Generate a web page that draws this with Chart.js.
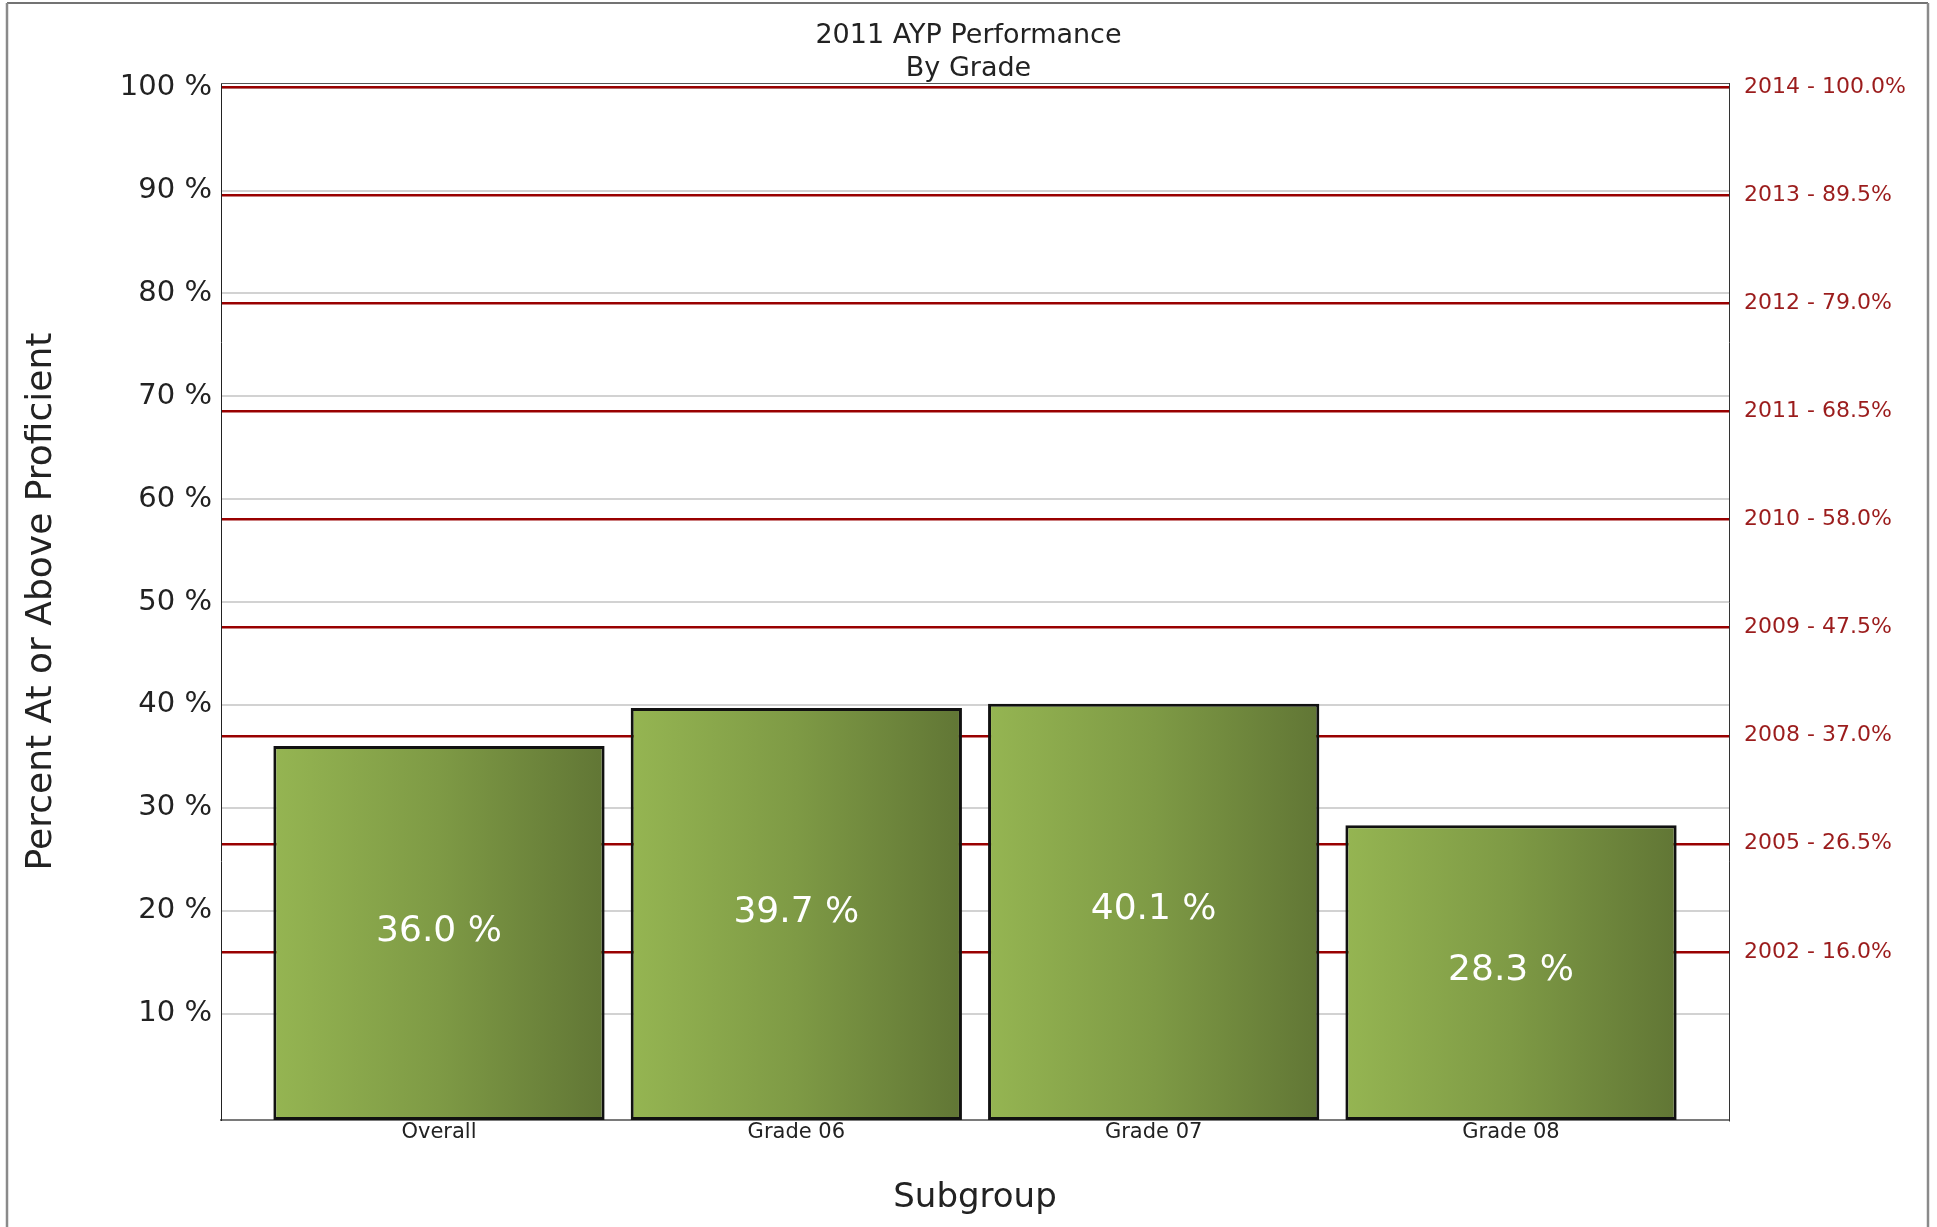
<!DOCTYPE html>
<html><head><meta charset="utf-8">
<script src="https://cdn.jsdelivr.net/npm/chart.js@4/dist/chart.umd.min.js"></script>
<style>html,body{margin:0;padding:0;background:#fff;overflow:hidden}canvas{display:block}</style>
</head><body>
<canvas id="c" width="1937" height="1227"></canvas>
<script>
const categories = ['Overall', 'Grade 06', 'Grade 07', 'Grade 08'];
const values = [36.0, 39.7, 40.1, 28.3];
const yTicks = [10, 20, 30, 40, 50, 60, 70, 80, 90, 100];
const targetYears = ['2002', '2005', '2008', '2009', '2010', '2011', '2012', '2013', '2014'];
const targetValues = [16.0, 26.5, 37.0, 47.5, 58.0, 68.5, 79.0, 89.5, 100.0];
const titleLines = ['2011 AYP Performance', 'By Grade'];
const xTitle = 'Subgroup';
const yTitle = 'Percent At or Above Proficient';

const FONT = 'DejaVu Sans';
const BAR_PCT = 0.927;
const Y_MIN = -0.35;
const Y_MAX = 100.45;

function barGradient(ctx) {
  const chart = ctx.chart;
  const xs = chart.scales && chart.scales.x;
  if (!chart.chartArea || !xs || ctx.dataIndex === undefined) return '#7f9a48';
  const cx = xs.getPixelForValue(ctx.dataIndex);
  const hw = (xs.getPixelForValue(1) - xs.getPixelForValue(0)) * BAR_PCT / 2;
  const g = chart.ctx.createLinearGradient(cx - hw, 0, cx + hw, 0);
  g.addColorStop(0, '#95b552');
  g.addColorStop(0.5, '#7e9a45');
  g.addColorStop(1, '#617635');
  return g;
}

const decor = {
  id: 'decor',
  beforeDatasetsDraw(chart) {
    const {ctx, chartArea: a} = chart;
    ctx.save();
    ctx.strokeStyle = '#555';
    ctx.lineWidth = 1;
    ctx.beginPath();
    ctx.moveTo(a.left, a.top + 0.5);
    ctx.lineTo(a.right, a.top + 0.5);
    ctx.stroke();
    ctx.restore();
  },
  afterDatasetsDraw(chart) {
    const {ctx} = chart;
    const meta = chart.getDatasetMeta(0);
    const ys = chart.scales.y;
    const zero = ys.getPixelForValue(0);
    ctx.save();
    ctx.fillStyle = '#ffffff';
    ctx.font = '36px "' + FONT + '"';
    ctx.textAlign = 'center';
    ctx.textBaseline = 'middle';
    meta.data.forEach((bar, i) => {
      ctx.fillText(values[i].toFixed(1) + ' %', bar.x, (bar.y + zero) / 2);
    });
    ctx.restore();
  },
  afterDraw(chart) {
    const {ctx} = chart;
    ctx.save();
    ctx.strokeStyle = '#444';
    ctx.lineWidth = 1.5;
    ctx.beginPath();
    ctx.moveTo(7, 3); ctx.lineTo(1928, 3);
    ctx.stroke();
    ctx.strokeStyle = '#8a8a8a';
    ctx.lineWidth = 2.5;
    ctx.beginPath();
    ctx.moveTo(7, 3); ctx.lineTo(7, 1227);
    ctx.moveTo(1928, 3); ctx.lineTo(1928, 1227);
    ctx.stroke();
    ctx.restore();
  }
};

new Chart(document.getElementById('c'), {
  type: 'bar',
  data: {
    datasets: [{
      data: categories.map((c, i) => ({x: i, y: values[i]})),
      backgroundColor: barGradient,
      borderColor: '#111',
      borderWidth: 3,
      borderSkipped: false,
      base: Y_MIN,
      categoryPercentage: 1,
      barPercentage: BAR_PCT
    }]
  },
  options: {
    responsive: false,
    animation: false,
    devicePixelRatio: 1,
    layout: {padding: 0},
    plugins: {
      legend: {display: false},
      tooltip: {enabled: false},
      title: {
        display: true, text: titleLines, color: '#222',
        font: {family: FONT, size: 27, weight: 'normal', lineHeight: 1.2},
        padding: {top: 20, bottom: -1.8}
      }
    },
    scales: {
      x: {
        type: 'linear', min: -0.61, max: 3.61, offset: false,
        afterBuildTicks: s => { s.ticks = categories.map((c, i) => ({value: i})); },
        afterFit: s => { s.height = 107; },
        ticks: {callback: v => categories[v], color: '#222', font: {family: FONT, size: 21}, padding: 0, autoSkip: false, maxRotation: 0},
        grid: {display: false, drawTicks: false, offset: false},
        border: {display: true, color: '#7a7a7a', width: 2},
        title: {display: true, text: xTitle, color: '#222', font: {family: FONT, size: 34}, padding: {top: 0, bottom: 8}}
      },
      y: {
        min: Y_MIN, max: Y_MAX,
        afterBuildTicks: s => { s.ticks = yTicks.map(v => ({value: v})); },
        afterFit: s => { s.width = 221; },
        ticks: {callback: v => v + ' %', color: '#222', font: {family: FONT, size: 29}, padding: 9},
        grid: {color: '#d2d2d2', lineWidth: 2, drawTicks: false},
        border: {display: true, color: '#222', width: 1},
        title: {display: true, text: yTitle, color: '#222', font: {family: FONT, size: 36}, padding: {top: 20, bottom: 0}}
      },
      y2: {
        position: 'right', min: Y_MIN, max: Y_MAX,
        afterBuildTicks: s => { s.ticks = targetValues.map(v => ({value: v})); },
        afterFit: s => { s.width = 208; },
        ticks: {callback: (v, i) => targetYears[i] + ' - ' + targetValues[i].toFixed(1) + '%', color: '#9b1c1c', font: {family: FONT, size: 22}, padding: 15},
        grid: {color: '#990000', lineWidth: 2.5, drawTicks: false},
        border: {display: true, color: '#333', width: 1}
      }
    }
  },
  plugins: [decor]
});
</script>
</body></html>
